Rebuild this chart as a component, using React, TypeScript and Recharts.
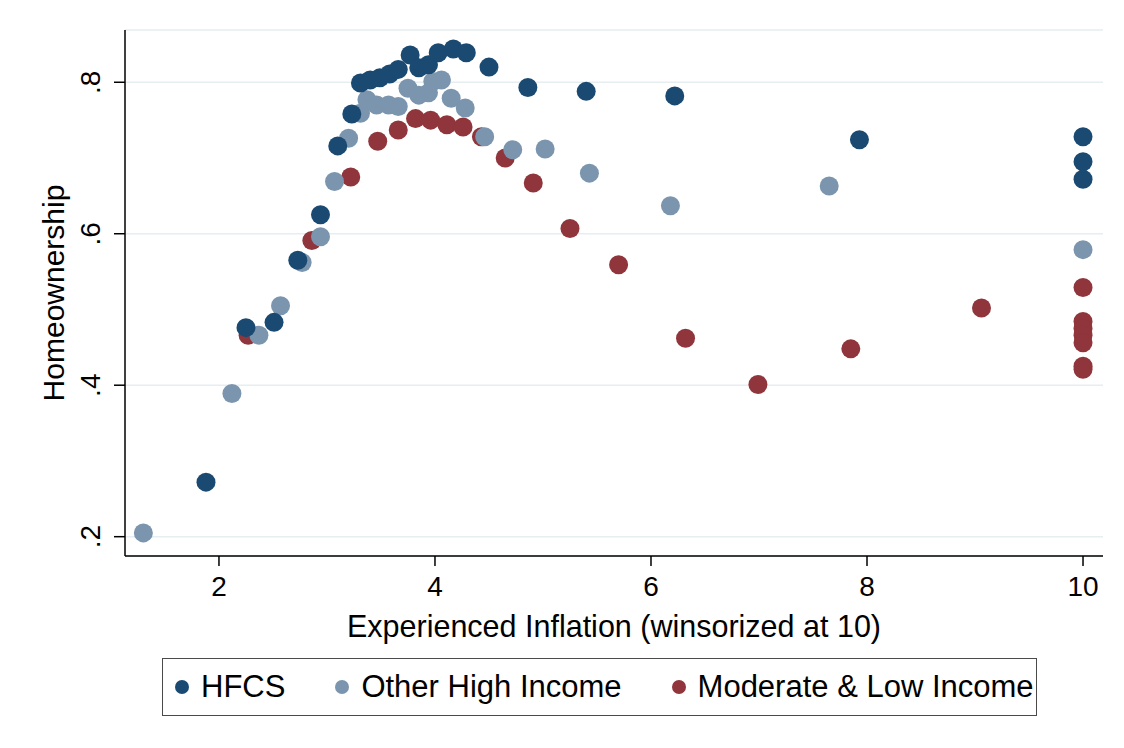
import React from 'react';
import { ScatterChart, Scatter, XAxis, YAxis, CartesianGrid } from 'recharts';

// ---- Data ----
const xTicks = [2, 4, 6, 8, 10];
const yTicks = [0.2, 0.4, 0.6, 0.8];
const yTickLabels = ['.2', '.4', '.6', '.8'];

const seriesNames = ['HFCS', 'Other High Income', 'Moderate & Low Income'];
const seriesColors = ['#1a4a72', '#7b95ae', '#8f353b'];

const hfcsInflation = [1.88, 2.25, 2.51, 2.73, 2.94, 3.1, 3.23, 3.31, 3.4, 3.49, 3.58, 3.66, 3.77, 3.85, 3.94, 4.03, 4.17, 4.29, 4.5, 4.86, 5.4, 6.22, 7.93, 10, 10, 10];
const hfcsHomeownership = [0.272, 0.476, 0.483, 0.565, 0.625, 0.716, 0.758, 0.799, 0.803, 0.806, 0.811, 0.817, 0.836, 0.819, 0.823, 0.839, 0.844, 0.839, 0.82, 0.793, 0.788, 0.782, 0.724, 0.728, 0.695, 0.672];

const otherInflation = [1.3, 2.12, 2.37, 2.57, 2.77, 2.94, 3.07, 3.2, 3.31, 3.37, 3.46, 3.57, 3.66, 3.75, 3.85, 3.94, 3.98, 4.06, 4.15, 4.28, 4.46, 4.72, 5.02, 5.43, 6.18, 7.65, 10];
const otherHomeownership = [0.205, 0.389, 0.466, 0.505, 0.562, 0.596, 0.669, 0.726, 0.759, 0.777, 0.77, 0.77, 0.768, 0.792, 0.783, 0.786, 0.801, 0.803, 0.779, 0.766, 0.728, 0.711, 0.712, 0.68, 0.637, 0.663, 0.579];

const modLowInflation = [2.27, 2.86, 3.22, 3.47, 3.66, 3.82, 3.96, 4.11, 4.26, 4.43, 4.65, 4.91, 5.25, 5.7, 6.32, 6.99, 7.85, 9.06, 10, 10, 10, 10, 10, 10, 10];
const modLowHomeownership = [0.466, 0.591, 0.675, 0.722, 0.737, 0.752, 0.75, 0.744, 0.741, 0.728, 0.7, 0.667, 0.607, 0.559, 0.462, 0.401, 0.448, 0.502, 0.529, 0.484, 0.475, 0.466, 0.456, 0.425, 0.421];

const toPoints = (xs: number[], ys: number[]) => xs.map((x, i) => ({ x, y: ys[i] }));
const hfcsData = toPoints(hfcsInflation, hfcsHomeownership);
const otherData = toPoints(otherInflation, otherHomeownership);
const modLowData = toPoints(modLowInflation, modLowHomeownership);

const FONT = '"Liberation Sans", Arial, Helvetica, sans-serif';
const MARKER_R = 9.5;

const makeDot = (color: string) => (props: any) => {
  const { cx, cy } = props;
  if (cx == null || cy == null) return <g />;
  return <circle cx={cx} cy={cy} r={MARKER_R} fill={color} />;
};

const XTick = (props: any) => {
  const { x, y, payload } = props;
  return (
    <text x={x} y={y + 18} textAnchor="middle" dominantBaseline="central" fontFamily={FONT} fontSize={28} fill="#000">
      {payload.value}
    </text>
  );
};

const YTick = (props: any) => {
  const { x, y, payload } = props;
  const idx = yTicks.indexOf(payload.value);
  const label = idx >= 0 ? yTickLabels[idx] : String(payload.value);
  const cx = x - 21;
  return (
    <text x={cx} y={y} transform={`rotate(-90 ${cx} ${y})`} textAnchor="middle" dominantBaseline="central" fontFamily={FONT} fontSize={28} fill="#000">
      {label}
    </text>
  );
};

const XTitle = (props: any) => {
  const vb = props.viewBox || {};
  const cx = vb.x + vb.width / 2;
  return (
    <text x={cx} y={626} textAnchor="middle" dominantBaseline="central" fontFamily={FONT} fontSize={30.5} fill="#000">
      Experienced Inflation (winsorized at 10)
    </text>
  );
};

const YTitle = (props: any) => {
  const vb = props.viewBox || {};
  const cy = vb.y + vb.height / 2;
  const cx = 53;
  return (
    <text x={cx} y={cy} transform={`rotate(-90 ${cx} ${cy})`} textAnchor="middle" dominantBaseline="central" fontFamily={FONT} fontSize={30} fill="#000">
      Homeownership
    </text>
  );
};

export default function App() {
  return (
    <div style={{ position: 'absolute', left: 0, top: 0, width: 1124, height: 748, background: '#fff' }}>
      <ScatterChart width={1124} height={748} margin={{ top: 30, right: 21, left: 0, bottom: 0 }}>
        <CartesianGrid horizontal vertical={false} stroke="#e6eef1" strokeWidth={1.6} />
        <XAxis
          type="number"
          dataKey="x"
          domain={[1.13, 10.185]}
          ticks={xTicks}
          allowDataOverflow
          height={192}
          axisLine={{ stroke: '#000', strokeWidth: 1.5 }}
          tickLine={{ stroke: '#000', strokeWidth: 1.5 }}
          tickSize={10}
          tick={<XTick />}
          label={<XTitle />}
        />
        <YAxis
          type="number"
          dataKey="y"
          domain={[0.1745, 0.869]}
          ticks={yTicks}
          allowDataOverflow
          width={125}
          axisLine={{ stroke: '#000', strokeWidth: 1.5 }}
          tickLine={{ stroke: '#000', strokeWidth: 1.5 }}
          tickSize={11}
          tick={<YTick />}
          label={<YTitle />}
        />
        <Scatter name={seriesNames[2]} data={modLowData} fill={seriesColors[2]} shape={makeDot(seriesColors[2])} isAnimationActive={false} />
        <Scatter name={seriesNames[1]} data={otherData} fill={seriesColors[1]} shape={makeDot(seriesColors[1])} isAnimationActive={false} />
        <Scatter name={seriesNames[0]} data={hfcsData} fill={seriesColors[0]} shape={makeDot(seriesColors[0])} isAnimationActive={false} />
      </ScatterChart>
      <div
        style={{
          position: 'absolute',
          left: 162,
          top: 658,
          width: 875,
          height: 58,
          boxSizing: 'border-box',
          border: '1.5px solid #4a4a4a',
          display: 'flex',
          alignItems: 'center',
          paddingLeft: 12,
          gap: 50,
          fontFamily: FONT,
          fontSize: 31,
          color: '#000',
          whiteSpace: 'nowrap',
        }}
      >
        {seriesNames.map((name, i) => (
          <div key={name} style={{ display: 'flex', alignItems: 'center' }}>
            <span style={{ display: 'inline-block', width: 14, height: 14, borderRadius: 7, background: seriesColors[i], marginRight: 12 }} />
            <span>{name}</span>
          </div>
        ))}
      </div>
    </div>
  );
}
